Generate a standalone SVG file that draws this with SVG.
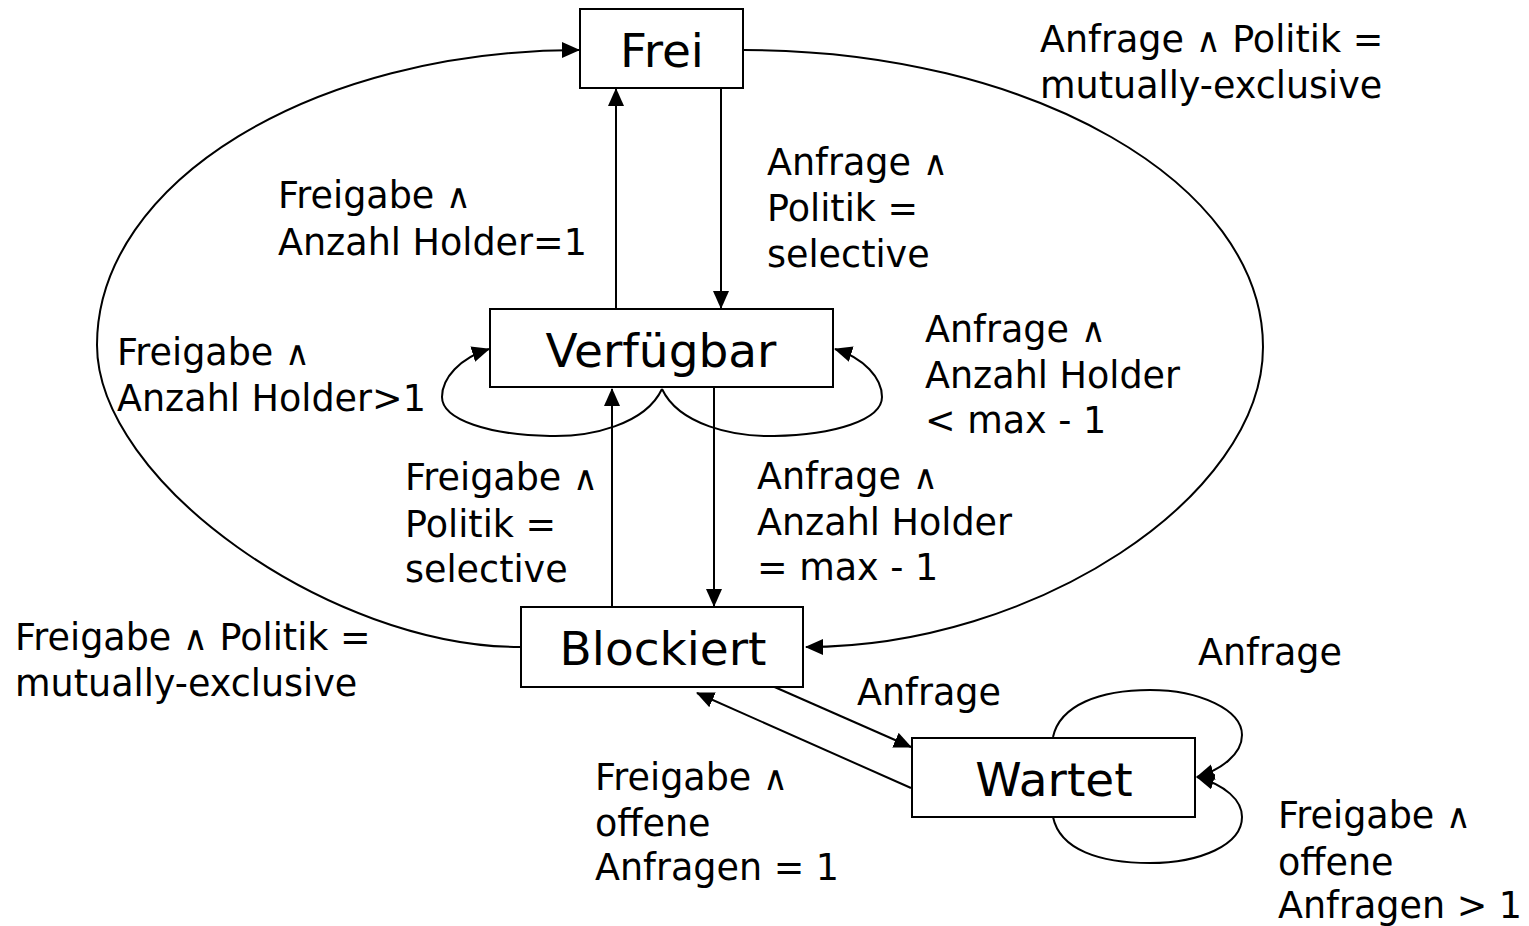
<svg xmlns="http://www.w3.org/2000/svg" width="1529" height="926" viewBox="0 0 1529 926">
<style>
.box{fill:#fff;stroke:#000;stroke-width:2}
.node{font-family:"DejaVu Sans",Verdana,sans-serif;font-size:47px;fill:#000;text-anchor:middle}
.lbl{font-family:"DejaVu Sans",Verdana,sans-serif;font-size:36.5px;fill:#000}
.and{font-weight:200;font-size:34px}
.edge{fill:none;stroke:#000;stroke-width:2}
</style>
<defs>
<marker id="arr" markerUnits="userSpaceOnUse" markerWidth="20" markerHeight="18" refX="17" refY="8" orient="auto">
<path d="M0,0 L18,8 L0,16 z" fill="#000"/>
</marker>
</defs>
<rect width="1529" height="926" fill="#fff"/>
<g id="connectors">
<path class="edge" d="M721,86 L721,308" marker-end="url(#arr)"/>
<path class="edge" d="M616,308 L616,89" marker-end="url(#arr)"/>
<path class="edge" d="M714,388 L714,606" marker-end="url(#arr)"/>
<path class="edge" d="M612,607 L612,389" marker-end="url(#arr)"/>
<path class="edge" d="M520,647 C330,647 97,481 97,345 C97,182 313,50 579,50" marker-end="url(#arr)"/>
<path class="edge" d="M744,50 C1031,50 1263,183 1263,347 C1263,497 1034,647 806,647" marker-end="url(#arr)"/>
<path class="edge" d="M662,389 C645,425 590,437 550,436 C490,435 442,420 442,397 C442,378 460,358 489,349" marker-end="url(#arr)"/>
<path class="edge" d="M662,389 C679,425 734,437 774,436 C834,435 882,420 882,397 C882,378 864,358 835,349" marker-end="url(#arr)"/>
<path class="edge" d="M770,685 L911,747" marker-end="url(#arr)"/>
<path class="edge" d="M911,788 L697,693" marker-end="url(#arr)"/>
<path class="edge" d="M1053,737 C1060,705 1100,690 1150,690 C1200,690 1242,710 1242,735 C1242,755 1220,770 1197,777" marker-end="url(#arr)"/>
<path class="edge" d="M1053,817 C1060,850 1100,863 1150,863 C1200,863 1242,845 1242,817 C1242,800 1225,785 1197,777" marker-end="url(#arr)"/>
</g>
<g id="frei">
<rect class="box" x="580" y="9" width="163" height="79"/>
<text class="node" x="662" y="67">Frei</text>
</g>
<g id="verfuegbar">
<rect class="box" x="490" y="309" width="343" height="78"/>
<text class="node" x="661" y="367">Verfügbar</text>
</g>
<g id="blockiert">
<rect class="box" x="521" y="607" width="282" height="80"/>
<text class="node" x="663" y="665">Blockiert</text>
</g>
<g id="wartet">
<rect class="box" x="912" y="738" width="283" height="79"/>
<text class="node" x="1054" y="796">Wartet</text>
</g>
<g id="labels">
<text class="lbl" x="1040" y="52">Anfrage <tspan class="and">∧</tspan> Politik =</text>
<text class="lbl" x="1040" y="98">mutually-exclusive</text>
<text class="lbl" x="767" y="175">Anfrage <tspan class="and">∧</tspan></text>
<text class="lbl" x="767" y="221">Politik =</text>
<text class="lbl" x="767" y="267">selective</text>
<text class="lbl" x="278" y="208">Freigabe <tspan class="and">∧</tspan></text>
<text class="lbl" x="278" y="255">Anzahl Holder=1</text>
<text class="lbl" x="117" y="365">Freigabe <tspan class="and">∧</tspan></text>
<text class="lbl" x="117" y="411">Anzahl Holder&gt;1</text>
<text class="lbl" x="925" y="342">Anfrage <tspan class="and">∧</tspan></text>
<text class="lbl" x="925" y="388">Anzahl Holder</text>
<text class="lbl" x="925" y="433">&lt; max - 1</text>
<text class="lbl" x="405" y="490">Freigabe <tspan class="and">∧</tspan></text>
<text class="lbl" x="405" y="537">Politik =</text>
<text class="lbl" x="405" y="582">selective</text>
<text class="lbl" x="757" y="489">Anfrage <tspan class="and">∧</tspan></text>
<text class="lbl" x="757" y="535">Anzahl Holder</text>
<text class="lbl" x="757" y="580">= max - 1</text>
<text class="lbl" x="15" y="650">Freigabe <tspan class="and">∧</tspan> Politik =</text>
<text class="lbl" x="15" y="696">mutually-exclusive</text>
<text class="lbl" x="857" y="705">Anfrage</text>
<text class="lbl" x="1198" y="665">Anfrage</text>
<text class="lbl" x="595" y="790">Freigabe <tspan class="and">∧</tspan></text>
<text class="lbl" x="595" y="836">offene</text>
<text class="lbl" x="595" y="880">Anfragen = 1</text>
<text class="lbl" x="1278" y="828">Freigabe <tspan class="and">∧</tspan></text>
<text class="lbl" x="1278" y="875">offene</text>
<text class="lbl" x="1278" y="918">Anfragen &gt; 1</text>
</g>
</svg>
